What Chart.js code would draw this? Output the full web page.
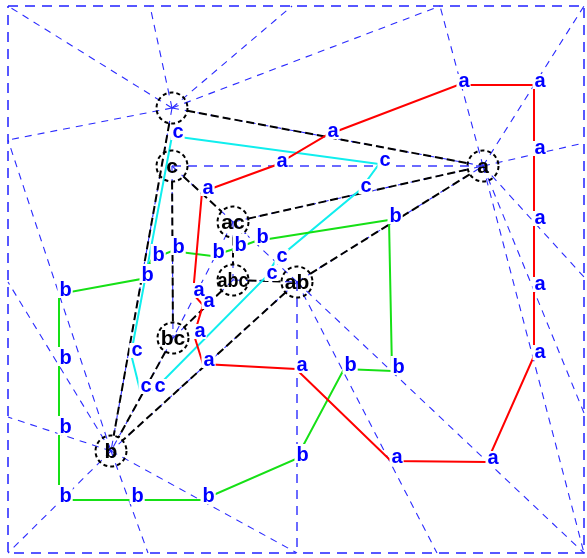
<!DOCTYPE html>
<html>
<head>
<meta charset="utf-8">
<script src="https://cdn.jsdelivr.net/npm/chart.js@4.4.1/dist/chart.umd.min.js"></script>
<style>
    html, body { margin: 0; padding: 0; background: #ffffff; }
    #wrap { width: 587px; height: 558px; }
</style>
</head>
<body>
<div id="wrap"><canvas id="diagram" width="587" height="558"></canvas></div>
<script>
// diagram units match the picture, y grows downwards

// outer frame
const frameX = [8, 584, 584, 8, 8];
const frameY = [6, 6, 553, 553, 6];

// nodes (dashed rings)
const nodeKeys = ["s", "c", "ac", "abc", "ab", "bc", "b", "a"];
const nodeText = ["", "c", "ac", "abc", "ab", "bc", "b", "a"];
const nodeX = [172, 172, 233, 233, 297, 173, 111, 483];
const nodeY = [108, 166, 222, 280, 282, 338, 451, 166];

// black dashed edges between nodes
const edgeFrom = ["s", "s", "c", "c", "ac", "ac", "abc", "abc", "ab", "ab", "bc"];
const edgeTo = ["a", "b", "bc", "ac", "a", "abc", "ab", "bc", "a", "b", "b"];

// thin blue dashed links between nodes
const linkFrom = ["ac", "ab", "s", "s", "c", "c", "ac", "ac", "abc", "abc", "ab", "ab", "bc"];
const linkTo = ["bc", "ac", "a", "b", "bc", "ac", "a", "abc", "ab", "bc", "a", "b", "b"];

// thin blue dashed rays from a node out to the frame
const rayFrom = ["s", "s", "s", "s", "s",
    "a", "a", "a", "a", "a", "a",
    "b", "b", "b", "b", "b", "b",
    "ab", "ab"];
const rayEndX = [8, 150, 292, 440, 8,
    440, 584, 584, 584, 584, 584,
    8, 8, 8, 8, 148, 297,
    437, 584];
const rayEndY = [6, 6, 6, 6, 140,
    6, 6, 143, 277, 413, 553,
    140, 282, 417, 553, 553, 553,
    553, 553];

// the two axis-parallel rays drawn in the heavier frame style
const heavyFrom = ["c", "ab"];
const heavyEndX = [483, 297];
const heavyEndY = [166, 553];

// closed curves, one label at every vertex
const redX = [202, 276, 327, 458, 534, 534, 534, 534, 534, 487, 391, 296, 203, 194, 203, 193];
const redY = [192, 165, 135, 85, 85, 152, 222, 288, 356, 462, 461, 369, 364, 335, 305, 294];

const greenX = [389, 256, 234, 212, 172, 152, 141, 59, 59, 59, 59, 131, 202, 296, 344, 392];
const greenY = [220, 241, 249, 256, 251, 259, 279, 294, 362, 431, 500, 500, 500, 459, 369, 371];

const cyanX = [172, 379, 360, 276, 266, 154, 140, 131];
const cyanY = [136, 164, 190, 260, 277, 390, 390, 354];

const ringRadius = 15.5;
const labelFont = "bold 20px 'Liberation Sans', Arial, sans-serif";
const nodeFont = "bold 21px 'Liberation Sans', Arial, sans-serif";

function nodeIndex(key) {
    return nodeKeys.indexOf(key);
}

function segment(x1, y1, x2, y2, color, width, dash, order) {
    return {
        data: [{ x: x1, y: y1 }, { x: x2, y: y2 }],
        showLine: true,
        borderColor: color,
        borderWidth: width,
        borderDash: dash,
        pointRadius: 0,
        fill: false,
        order: order,
    };
}

function closedPath(xs, ys, color) {
    const pts = xs.map((x, i) => ({ x: x, y: ys[i] }));
    pts.push({ x: xs[0], y: ys[0] });
    return {
        data: pts,
        showLine: true,
        borderColor: color,
        borderWidth: 2,
        pointRadius: 0,
        fill: false,
        tension: 0,
        order: 1,
    };
}

const datasets = [];

// frame
datasets.push({
    data: frameX.map((x, i) => ({ x: x, y: frameY[i] })),
    showLine: true,
    borderColor: "#2020ff",
    borderWidth: 1.5,
    borderDash: [10, 7],
    pointRadius: 0,
    fill: false,
    order: 5,
});

// rays
rayFrom.forEach((k, i) => {
    const n = nodeIndex(k);
    datasets.push(segment(nodeX[n], nodeY[n], rayEndX[i], rayEndY[i], "#2a2aff", 1.1, [7, 6], 4));
});

heavyFrom.forEach((k, i) => {
    const n = nodeIndex(k);
    datasets.push(segment(nodeX[n], nodeY[n], heavyEndX[i], heavyEndY[i], "#3a3aff", 1.5, [9, 7], 4));
});

linkFrom.forEach((k, i) => {
    const a = nodeIndex(k);
    const b = nodeIndex(linkTo[i]);
    datasets.push(segment(nodeX[a], nodeY[a], nodeX[b], nodeY[b], "#2a2aff", 1.1, [7, 6], 4));
});

// black edges, stopped at the rings
edgeFrom.forEach((k, i) => {
    const a = nodeIndex(k);
    const b = nodeIndex(edgeTo[i]);
    const dx = nodeX[b] - nodeX[a];
    const dy = nodeY[b] - nodeY[a];
    const len = Math.sqrt(dx * dx + dy * dy);
    const ux = dx / len;
    const uy = dy / len;
    datasets.push(segment(
        nodeX[a] + ux * ringRadius, nodeY[a] + uy * ringRadius,
        nodeX[b] - ux * ringRadius, nodeY[b] - uy * ringRadius,
        "#000000", 2, [8, 4], 3
    ));
});

datasets.push(closedPath(redX, redY, "#ff0000"));
datasets.push(closedPath(greenX, greenY, "#16e016"));
datasets.push(closedPath(cyanX, cyanY, "#10eeee"));

const labelSets = [
    { xs: redX, ys: redY, letter: "a" },
    { xs: greenX, ys: greenY, letter: "b" },
    { xs: cyanX, ys: cyanY, letter: "c" },
];

const overlayPlugin = {
    id: "overlay",
    afterDatasetsDraw(chart) {
        const ctx = chart.ctx;
        const sx = chart.scales.x;
        const sy = chart.scales.y;
        ctx.save();

        // rings
        ctx.setLineDash([4, 3]);
        ctx.lineWidth = 2;
        ctx.strokeStyle = "#000000";
        nodeX.forEach((x, i) => {
            ctx.beginPath();
            ctx.arc(sx.getPixelForValue(x), sy.getPixelForValue(nodeY[i]), ringRadius, 0, Math.PI * 2);
            ctx.stroke();
        });
        ctx.setLineDash([]);

        // node names
        ctx.font = nodeFont;
        ctx.fillStyle = "#000000";
        ctx.textAlign = "center";
        ctx.textBaseline = "middle";
        nodeText.forEach((t, i) => {
            if (!t) return;
            const px = sx.getPixelForValue(nodeX[i]);
            const py = sy.getPixelForValue(nodeY[i]);
            if (t.length > 2) {
                ctx.fillText(t, px, py + 1, 31);
            } else {
                ctx.fillText(t, px, py + 1);
            }
        });

        // curve labels: white boxes first, then letters
        ctx.font = labelFont;
        ctx.textAlign = "left";
        ctx.textBaseline = "alphabetic";
        const marks = [];
        labelSets.forEach((set) => {
            set.xs.forEach((x, i) => {
                marks.push({
                    px: sx.getPixelForValue(x) + 0.5,
                    py: sy.getPixelForValue(set.ys[i]) + 2,
                    letter: set.letter,
                });
            });
        });
        ctx.fillStyle = "#ffffff";
        marks.forEach((m) => {
            const mt = ctx.measureText(m.letter);
            ctx.fillRect(
                m.px - 2,
                m.py - mt.actualBoundingBoxAscent - 2,
                mt.width + 3,
                mt.actualBoundingBoxAscent + mt.actualBoundingBoxDescent + 4
            );
        });
        ctx.fillStyle = "#0000ff";
        marks.forEach((m) => {
            ctx.fillText(m.letter, m.px, m.py);
        });

        ctx.restore();
    },
};

new Chart(document.getElementById("diagram").getContext("2d"), {
    type: "scatter",
    data: { datasets: datasets },
    options: {
        responsive: false,
        animation: false,
        devicePixelRatio: 1,
        layout: { padding: 0 },
        scales: {
            x: { type: "linear", min: 0, max: 587, display: false },
            y: { type: "linear", min: 0, max: 558, reverse: true, display: false },
        },
        plugins: {
            legend: { display: false },
            tooltip: { enabled: false },
        },
        elements: { line: { tension: 0 } },
    },
    plugins: [overlayPlugin],
});
</script>
</body>
</html>
